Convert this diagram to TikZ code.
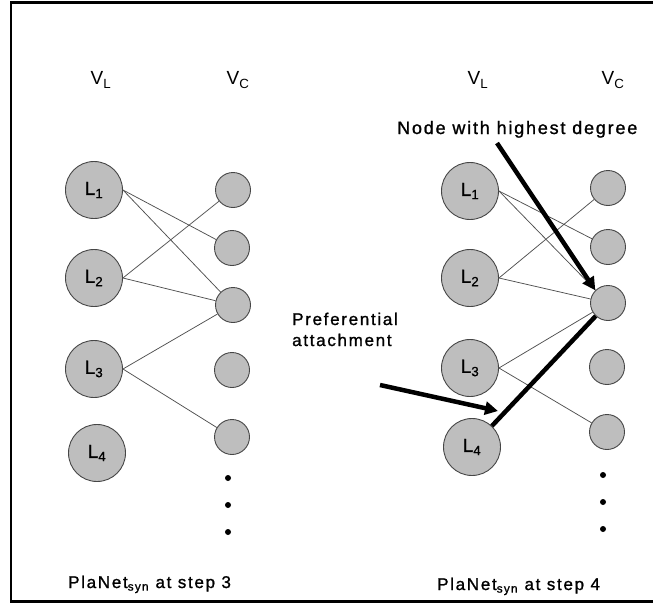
\documentclass[tikz,border=0pt]{standalone}
\usepackage{fontspec}
\setmainfont{Liberation Sans}
\newfontfamily\spacedfont[LetterSpace=10,FakeBold=1.2]{Liberation Sans}
\newfontfamily\labelfont[FakeBold=1.0]{Liberation Sans}
\usetikzlibrary{arrows.meta}
\definecolor{nodefill}{RGB}{190,190,190}
\definecolor{nodeline}{RGB}{70,70,70}
\definecolor{edgecol}{RGB}{80,80,80}
\tikzset{
  bignode/.style={circle, draw=nodeline, fill=nodefill, line width=0.9pt, minimum size=57pt, inner sep=0pt, font=\labelfont\fontsize{19}{21}\selectfont},
  smallnode/.style={circle, draw=nodeline, fill=nodefill, line width=0.9pt, minimum size=35pt, inner sep=0pt},
  setlabel/.style={font=\fontsize{19}{21}\selectfont, inner sep=0pt},
  caption/.style={font=\spacedfont\fontsize{17}{21}\selectfont, inner sep=0pt},
  bigcaption/.style={font=\spacedfont\fontsize{18}{21}\selectfont, inner sep=0pt},
  edge/.style={draw=edgecol, line width=0.75pt},
  bigarrow/.style={draw=black, line width=4.5pt, -{Triangle[length=13pt,width=13pt]}},
  dot/.style={circle, fill=black, minimum size=6pt, inner sep=0pt},
}
\begin{document}
\begin{tikzpicture}[x=1pt,y=-1pt]
\useasboundingbox (0,0) rectangle (653,605);
% frame
\draw[line width=2.5pt] (660,2.5) -- (11,2.5) -- (11,601.5) -- (660,601.5);

% ===== left panel =====
\node[setlabel] (vl1) at (101,80) {V\textsubscript{L}};
\node[setlabel] (vc1) at (238,80) {V\textsubscript{C}};
\node[bignode] (aL1) at (94,190) {L\textsubscript{1}};
\node[bignode] (aL2) at (94,278) {L\textsubscript{2}};
\node[bignode] (aL3) at (94,369) {L\textsubscript{3}};
\node[bignode] (aL4) at (97,453) {L\textsubscript{4}};
\node[smallnode] (aC1) at (233,190) {};
\node[smallnode] (aC2) at (232,248) {};
\node[smallnode] (aC3) at (233,305) {};
\node[smallnode] (aC4) at (232,370) {};
\node[smallnode] (aC5) at (232,437) {};
\node[dot] (ad1) at (228,478) {};
\node[dot] (ad2) at (228,505) {};
\node[dot] (ad3) at (228,532) {};
\draw[edge] (aL1.east) -- (aC2);
\draw[edge] (aL1.east) -- (aC3);
\draw[edge] (aL2.east) -- (aC1);
\draw[edge] (aL2.east) -- (aC3);
\draw[edge] (aL3.east) -- (aC3);
\draw[edge] (aL3.east) -- (aC5);
\node[caption, anchor=base west] (cap1) at (68,588) {PlaNet\textsubscript{syn} at step 3};

% ===== right panel =====
\node[setlabel] (vl2) at (478,80) {V\textsubscript{L}};
\node[setlabel] (vc2) at (613,80) {V\textsubscript{C}};
\node[bignode] (bL1) at (470,191) {L\textsubscript{1}};
\node[bignode] (bL2) at (470,278) {L\textsubscript{2}};
\node[bignode] (bL3) at (470,368) {L\textsubscript{3}};
\node[bignode] (bL4) at (472,447) {L\textsubscript{4}};
\node[smallnode] (bC1) at (608,188) {};
\node[smallnode] (bC2) at (608,247) {};
\node[smallnode] (bC3) at (608,303) {};
\node[smallnode] (bC4) at (607,367) {};
\node[smallnode] (bC5) at (607,432) {};
\node[dot] (bd1) at (603,475) {};
\node[dot] (bd2) at (603,502) {};
\node[dot] (bd3) at (603,529) {};
\draw[edge] (bL1.east) -- (bC2);
\draw[edge] (bL1.east) -- (bC3);
\draw[edge] (bL2.east) -- (bC1);
\draw[edge] (bL2.east) -- (bC3);
\draw[edge] (bL3.east) -- (bC3);
\draw[edge] (bL3.east) -- (bC5);
\draw[draw=black, line width=4.5pt] (bL4) -- (bC3);
\node[caption, anchor=base west] (cap2) at (437,590) {PlaNet\textsubscript{syn} at step 4};

\node[bigcaption, anchor=base west] (hd) at (397,134) {Node with highest degree};
\node[caption, anchor=base west, align=left] (pa) at (292,346) {Preferential\\attachment};
\coordinate (hdstart) at (497,143);
\coordinate (pastart) at (380,385);
\draw[bigarrow] (hdstart) -- (bC3.north west);
\draw[bigarrow] (pastart) -- (498,411);
\end{tikzpicture}
\end{document}
